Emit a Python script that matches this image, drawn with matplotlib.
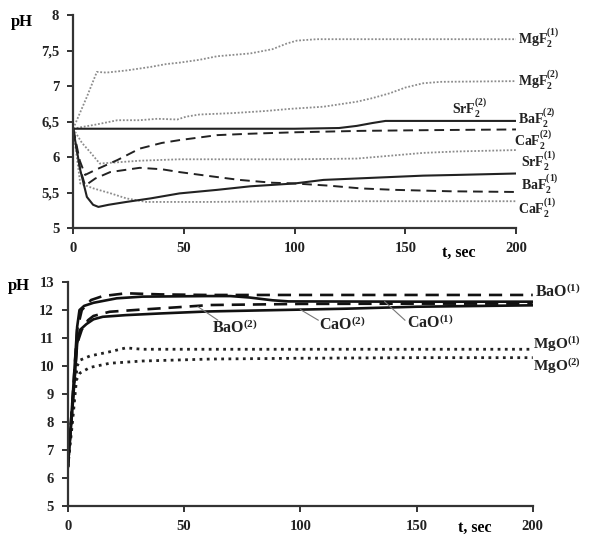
import matplotlib
matplotlib.use("Agg")
import matplotlib.pyplot as plt

plt.rcParams['font.family'] = ['Liberation Serif', 'DejaVu Serif']
plt.rcParams['font.weight'] = 'bold'
plt.rcParams['mathtext.fontset'] = 'custom'
plt.rcParams['mathtext.rm'] = 'Liberation Serif:bold'
plt.rcParams['mathtext.bf'] = 'Liberation Serif:bold'
plt.rcParams['mathtext.it'] = 'Liberation Serif:bold'
plt.rcParams['mathtext.default'] = 'rm'

# ---------------- Top panel data (fluorides) ----------------
t_mgf1 = [0, 6.2, 10.7, 15, 24, 35, 42, 48, 57, 65, 80, 90, 96.5, 101, 110, 200]
ph_mgf1 = [6.4, 6.85, 7.2, 7.19, 7.22, 7.27, 7.31, 7.33, 7.37, 7.42, 7.46, 7.52, 7.6, 7.64, 7.66, 7.66]

t_mgf2 = [0, 5, 10.5, 20, 30, 38, 47, 51, 57, 72, 87, 98, 113, 128, 135, 143, 150, 158, 166, 200]
ph_mgf2 = [6.4, 6.43, 6.46, 6.52, 6.52, 6.54, 6.53, 6.57, 6.6, 6.62, 6.65, 6.68, 6.71, 6.78, 6.83, 6.9, 6.98, 7.04, 7.06, 7.07]

t_srf2 = [0, 100, 120, 128, 135, 141, 200]
ph_srf2 = [6.4, 6.4, 6.41, 6.44, 6.48, 6.51, 6.51]

t_baf2 = [0, 3, 5.4, 10, 20, 30, 40, 48, 65, 80, 100, 130, 160, 200]
ph_baf2 = [6.4, 5.95, 5.75, 5.82, 5.96, 6.12, 6.2, 6.24, 6.31, 6.33, 6.35, 6.37, 6.38, 6.39]

t_caf2 = [0, 4, 7.7, 12, 21, 30, 48, 100, 128, 143, 158, 173, 200]
ph_caf2 = [6.4, 6.2, 6.07, 5.91, 5.93, 5.95, 5.97, 5.97, 5.98, 6.02, 6.06, 6.08, 6.1]

t_srf1 = [0, 3.2, 6.2, 9, 11.4, 16, 24, 35, 48, 65, 80, 100, 113, 128, 143, 158, 173, 200]
ph_srf1 = [6.4, 5.82, 5.44, 5.33, 5.3, 5.33, 5.37, 5.42, 5.49, 5.54, 5.59, 5.63, 5.68, 5.7, 5.72, 5.74, 5.75, 5.77]

t_baf1 = [0, 3, 5.4, 10, 16.7, 30, 40, 48, 60, 75, 90, 100, 115, 130, 145, 170, 200]
ph_baf1 = [6.4, 5.85, 5.6, 5.7, 5.79, 5.85, 5.83, 5.79, 5.74, 5.68, 5.64, 5.63, 5.6, 5.56, 5.54, 5.52, 5.51]

t_caf1 = [0, 3.2, 9.2, 17, 24, 33, 60, 100, 200]
ph_caf1 = [6.4, 5.63, 5.56, 5.49, 5.42, 5.37, 5.37, 5.38, 5.38]

top_yticks = [5, 5.5, 6, 6.5, 7, 7.5, 8]
top_yticklabels = ['5', '5,5', '6', '6,5', '7', '7,5', '8']
xticks = [0, 50, 100, 150, 200]

# ---------------- Bottom panel data (oxides) ----------------
t_bao1 = [0, 2, 4, 6, 10, 15, 25, 40, 60, 100, 150, 200]
ph_bao1 = [6.4, 8.8, 11.3, 12.0, 12.36, 12.5, 12.6, 12.56, 12.54, 12.54, 12.54, 12.54]

t_cao1 = [0, 2, 4, 5, 7, 11, 21, 32, 60, 70, 78, 88, 95, 150, 200]
ph_cao1 = [6.4, 8.8, 11.4, 12.0, 12.15, 12.26, 12.42, 12.48, 12.5, 12.5, 12.45, 12.35, 12.31, 12.3, 12.3]

t_bao2 = [0, 2, 4, 6, 8.7, 11, 18, 32, 47, 61, 100, 150, 200]
ph_bao2 = [6.4, 8.6, 10.8, 11.3, 11.64, 11.79, 11.94, 12.02, 12.1, 12.18, 12.22, 12.23, 12.23]

t_cao2 = [0, 2, 4, 5.2, 8, 11, 15, 25, 40, 60, 90, 120, 150, 200]
ph_cao2 = [6.4, 8.5, 10.8, 11.29, 11.5, 11.67, 11.76, 11.82, 11.88, 11.95, 12.0, 12.05, 12.12, 12.17]

t_mgo1 = [0, 2, 4, 5.2, 9.5, 18, 25, 32, 60, 100, 150, 200]
ph_mgo1 = [6.4, 8.4, 10.0, 10.21, 10.36, 10.51, 10.65, 10.6, 10.6, 10.6, 10.6, 10.6]

t_mgo2 = [0, 2, 3.7, 5.2, 9.5, 18, 32, 61, 100, 150, 200]
ph_mgo2 = [6.4, 8.0, 9.5, 9.75, 9.95, 10.1, 10.18, 10.25, 10.28, 10.3, 10.3]

bot_yticks = [5, 6, 7, 8, 9, 10, 11, 12, 13]

fig = plt.figure(figsize=(5.9, 5.37), dpi=100)
ax1 = fig.add_axes([0.124, 0.575, 0.751, 0.397])
ax2 = fig.add_axes([0.115, 0.0577, 0.788, 0.417])

def style(ax):
    for s in ['top', 'right']:
        ax.spines[s].set_visible(False)
    for s in ['left', 'bottom']:
        ax.spines[s].set_linewidth(1.6)
        ax.spines[s].set_color('#333333')
    ax.tick_params(direction='out', length=4, width=1.4, color='#333333',
                   labelsize=10.5, pad=6, labelcolor='#222222')
    for lab in ax.get_xticklabels() + ax.get_yticklabels():
        lab.set_fontweight('bold')

gray = '#8c8c8c'
dot_top = (0, (1, 1))
dash = (0, (5, 3))

ax1.plot(t_mgf1, ph_mgf1, color=gray, ls=dot_top, lw=1.3)
ax1.plot(t_mgf2, ph_mgf2, color=gray, ls=dot_top, lw=1.3)
ax1.plot(t_caf2, ph_caf2, color=gray, ls=dot_top, lw=1.3)
ax1.plot(t_caf1, ph_caf1, color=gray, ls=dot_top, lw=1.3)
ax1.plot(t_srf2, ph_srf2, color='#222222', ls='-', lw=1.5)
ax1.plot(t_srf1, ph_srf1, color='#222222', ls='-', lw=1.5)
ax1.plot(t_baf2, ph_baf2, color='#222222', ls=dash, lw=1.4)
ax1.plot(t_baf1, ph_baf1, color='#222222', ls=dash, lw=1.4)
ax1.set_xlim(0, 200)
ax1.set_ylim(5, 8)
ax1.set_xticks(xticks)
ax1.set_yticks(top_yticks)
ax1.set_yticklabels(top_yticklabels)
style(ax1)

lblsize = 10
top_labels = [
    (201, 7.59, r'MgF$_2^{(1)}$'),
    (201, 6.99, r'MgF$_2^{(2)}$'),
    (171, 6.60, r'SrF$_2^{(2)}$'),
    (201, 6.46, r'BaF$_2^{(2)}$'),
    (199, 6.15, r'CaF$_2^{(2)}$'),
    (202, 5.85, r'SrF$_2^{(1)}$'),
    (202, 5.53, r'BaF$_2^{(1)}$'),
    (201, 5.20, r'CaF$_2^{(1)}$'),
]
for x, y, s in top_labels:
    ax1.text(x, y, s, fontsize=lblsize, fontweight='bold', va='baseline', ha='left',
             color='#222222')
ax1.text(-23, 7.9, 'pH', fontsize=12, fontweight='bold', ha='center', va='center',
         clip_on=False)
ax1.text(174, 4.66, 't, sec', fontsize=11.5, fontweight='bold', ha='center', va='center',
         clip_on=False)

dot_bot = (0, (1, 1.6))
ax2.plot(t_mgo1, ph_mgo1, color='#222222', ls=dot_bot, lw=2.0)
ax2.plot(t_mgo2, ph_mgo2, color='#222222', ls=dot_bot, lw=2.0)
ax2.plot(t_cao2, ph_cao2, color='#111111', ls='-', lw=1.9)
ax2.plot(t_bao2, ph_bao2, color='#111111', ls=dash, lw=1.9)
ax2.plot(t_cao1, ph_cao1, color='#111111', ls='-', lw=1.9)
ax2.plot(t_bao1, ph_bao1, color='#111111', ls=dash, lw=1.9)
ax2.set_xlim(0, 200)
ax2.set_ylim(5, 13)
ax2.set_xticks(xticks)
ax2.set_yticks(bot_yticks)
style(ax2)

# pointer lines
pointers = [((56, 12.12), (64.5, 11.64)),
            ((100, 12.02), (107.7, 11.64)),
            ((136.3, 12.3), (145, 11.64))]
for (x0, y0), (x1, y1) in pointers:
    ax2.plot([x0, x1], [y0, y1], color='#777777', lw=0.8)

botsize = 11.5
bot_labels = [
    (201, 12.45, r'BaO$^{(1)}$', botsize),
    (62, 11.19, r'BaO$^{(2)}$', botsize),
    (108, 11.29, r'CaO$^{(2)}$', botsize),
    (146, 11.35, r'CaO$^{(1)}$', botsize),
    (200, 10.6, r'MgO$^{(1)}$', 11),
    (200, 9.84, r'MgO$^{(2)}$', 11),
]
for x, y, s, fs in bot_labels:
    ax2.text(x, y, s, fontsize=fs, fontweight='bold', va='baseline', ha='left',
             color='#222222')
ax2.text(-21, 12.86, 'pH', fontsize=12, fontweight='bold', ha='center', va='center',
         clip_on=False)
ax2.text(175, 4.22, 't, sec', fontsize=11.5, fontweight='bold', ha='center', va='center',
         clip_on=False)

fig.savefig('out.png', dpi=100)
